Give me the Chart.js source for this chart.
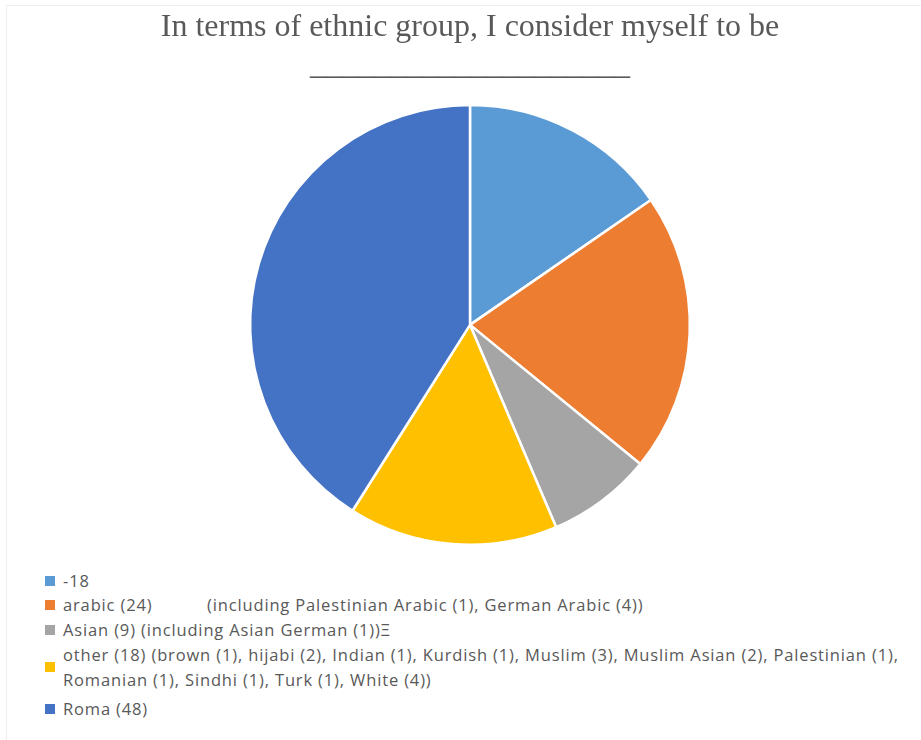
<!DOCTYPE html>
<html>
<head>
<meta charset="utf-8">
<script src="https://cdn.jsdelivr.net/npm/chart.js@4.4.1/dist/chart.umd.min.js"></script>
<style>
    html, body { margin: 0; padding: 0; background: #fff; }
    #wrap { position: relative; width: 921px; height: 740px; overflow: hidden; }
    #frameTop { position: absolute; left: 6px; top: 5px; width: 915px; height: 1px; background: #eeeeee; }
    #frameLeft { position: absolute; left: 6px; top: 5px; width: 1px; height: 735px; background: #eeeeee; }
    #chartBox { position: absolute; left: 0; top: 0; width: 921px; height: 560px; }
    #legend {
        position: absolute; left: 45px; top: 568px; margin: 0; padding: 0; list-style: none;
        font-family: 'Open Sans', sans-serif; font-size: 16.5px; letter-spacing: 0.85px; color: #595959;
    }
    #legend li { display: flex; align-items: center; line-height: 25px; }
    #legend .box { width: 10px; height: 10px; flex: none; margin-right: 8px; }
    #legend .txt { white-space: pre; tab-size: 144px; }
</style>
</head>
<body>
<div id="wrap">
    <div id="frameTop"></div>
    <div id="frameLeft"></div>
    <div id="chartBox"><canvas id="pieChart"></canvas></div>
    <ul id="legend"></ul>
</div>
<script>
const titleLines = ['In terms of ethnic group, I consider myself to be', '____________________'];
const categories = [
    '-18',
    'arabic (24)\t(including Palestinian Arabic (1), German Arabic (4))',
    'Asian (9) (including Asian German (1))Ξ',
    'other (18) (brown (1), hijabi (2), Indian (1), Kurdish (1), Muslim (3), Muslim Asian (2), Palestinian (1),\nRomanian (1), Sindhi (1), Turk (1), White (4))',
    'Roma (48)'
];
const counts = [18, 24, 9, 18, 48];
const colors = ['#5B9BD5', '#ED7D31', '#A5A5A5', '#FFC000', '#4472C4'];

document.addEventListener('DOMContentLoaded', () => {
    initPie();
    buildLegend();
});

function initPie() {
    const ctx = document.getElementById('pieChart').getContext('2d');
    new Chart(ctx, {
        type: 'pie',
        data: {
            labels: categories,
            datasets: [{
                data: counts,
                backgroundColor: colors,
                borderColor: '#ffffff',
                borderWidth: 2.5
            }]
        },
        options: {
            responsive: true,
            maintainAspectRatio: false,
            animation: false,
            layout: { padding: { left: 19, bottom: 14 } },
            plugins: {
                legend: { display: false },
                tooltip: { enabled: false },
                title: {
                    display: true,
                    text: titleLines,
                    color: '#595959',
                    font: { family: "'Liberation Serif', serif", size: 32, weight: 'normal', lineHeight: 1.2 },
                    padding: { top: 8, bottom: 19 }
                }
            }
        }
    });
}

function buildLegend() {
    const ul = document.getElementById('legend');
    categories.forEach((label, i) => {
        const li = document.createElement('li');
        if (i === 3) li.style.marginBottom = '4px';
        if (i === 1) li.style.marginTop = '-1px';
        const box = document.createElement('span');
        box.className = 'box';
        box.style.background = colors[i];
        const txt = document.createElement('span');
        txt.className = 'txt';
        txt.textContent = label;
        li.appendChild(box);
        li.appendChild(txt);
        ul.appendChild(li);
    });
}
</script>
</body>
</html>
